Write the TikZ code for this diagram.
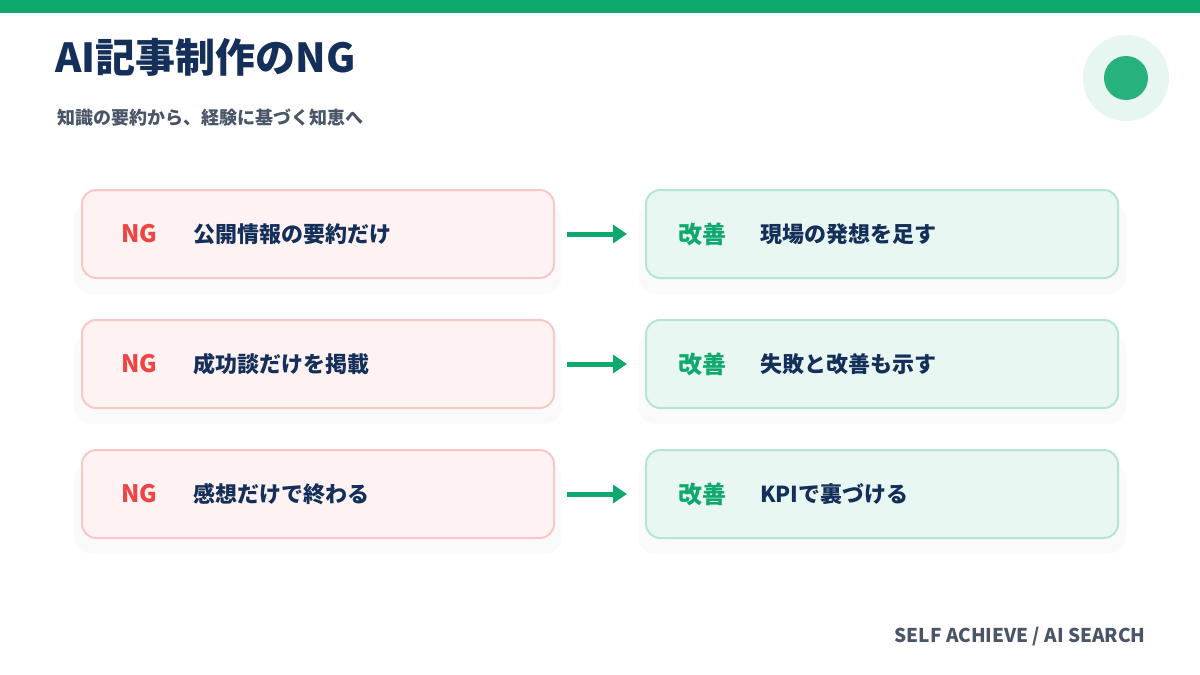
\documentclass[tikz,border=0pt]{standalone}
\usepackage{fontspec}
\setmainfont{Noto Sans CJK JP}[BoldFont={Noto Sans CJK JP Black}]
\usetikzlibrary{arrows.meta}
\definecolor{brandgreen}{HTML}{0FA86E}
\definecolor{navy}{HTML}{14305A}
\definecolor{slate}{HTML}{4A5568}
\definecolor{ngred}{HTML}{EF4444}
\tikzset{
    ng-box/.style = {draw=ngred!30, fill=ngred!7, line width=1pt, rounded corners=7pt, minimum width=236pt, minimum height=44pt},
    ok-box/.style = {draw=brandgreen!30, fill=brandgreen!9, line width=1pt, rounded corners=7pt, minimum width=236pt, minimum height=44pt},
    box-shadow/.style = {fill=black, opacity=0.018, rounded corners=9pt, minimum width=244pt, minimum height=46pt},
    tag/.style = {font=\bfseries\fontsize{12}{14}\selectfont, anchor=west},
    item/.style = {font=\bfseries\fontsize{11}{13}\selectfont, text=navy, anchor=west},
    step-arrow/.style = {draw=brandgreen, line width=2.5pt, -{Triangle[length=7pt,width=9pt]}},
}
\begin{document}
\begin{tikzpicture}[x=0.5pt,y=-0.5pt]
\useasboundingbox (0,0) rectangle (1200,675);
\fill[white] (0,0) rectangle (1200,675);
\fill[brandgreen] (0,0) rectangle (1200,13);
% title
\node[anchor=base west, inner sep=0, text=navy, font=\bfseries\fontsize{20}{24}\selectfont] (title) at (55,72) {AI記事制作のNG};
\node[anchor=base west, inner sep=0, text=slate, font=\bfseries\fontsize{9}{11}\selectfont] (subtitle) at (57,124) {知識の要約から、経験に基づく知恵へ};
% badge
\fill[brandgreen!10] (1126,78) circle (43);
\fill[brandgreen!90] (1126,78) circle (22);
% rows
\foreach \y/\ng/\ok [count=\i] in {234/公開情報の要約だけ/現場の発想を足す, 364/成功談だけを掲載/失敗と改善も示す, 494/感想だけで終わる/KPIで裏づける}{
    \node[box-shadow] at (318,\y+14) {};
    \node[box-shadow] at (882,\y+14) {};
    \node[ng-box] (ng\i) at (318,\y) {};
    \node[ok-box] (ok\i) at (882,\y) {};
    \node[tag, text=ngred] (ngtag\i) at (114,\y) {NG};
    \node[item] (ngtext\i) at (186,\y) {\ng};
    \node[tag, text=brandgreen] (oktag\i) at (671,\y) {改善};
    \node[item] (oktext\i) at (753,\y) {\ok};
    \draw[step-arrow] ([xshift=6pt]ng\i.east) -- ([xshift=-9pt]ok\i.west);
}
% footer
\node[anchor=base east, inner sep=0, text=slate, font=\bfseries\fontsize{9.5}{11}\selectfont] (footer) at (1146,642) {SELF ACHIEVE / AI SEARCH};
\end{tikzpicture}
\end{document}
